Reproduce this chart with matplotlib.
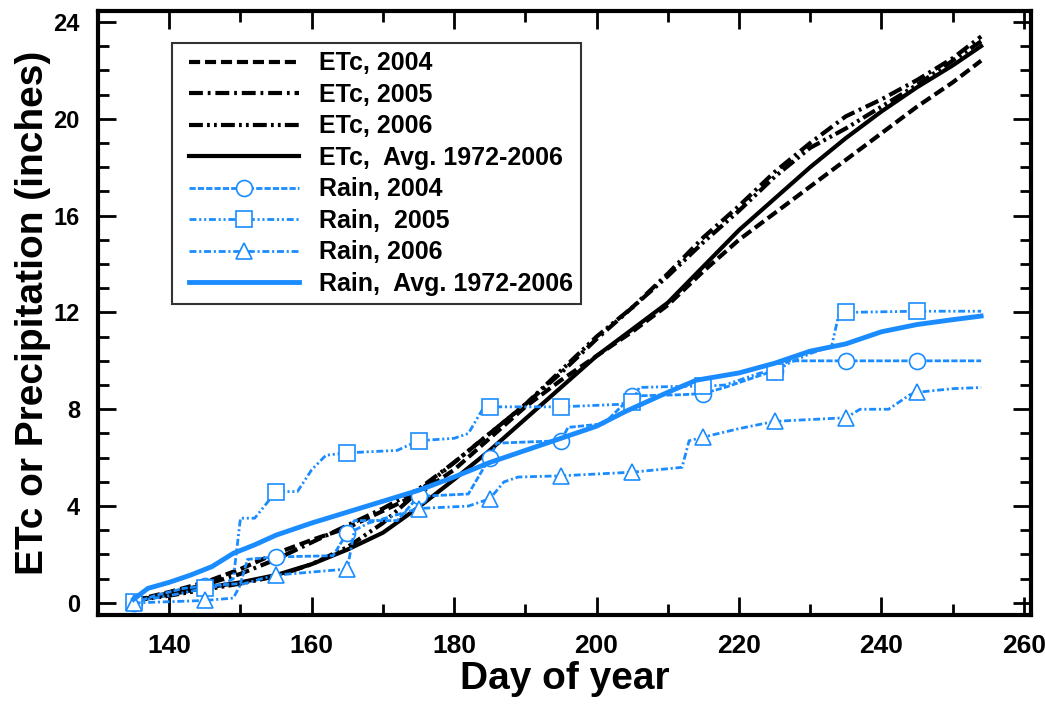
import matplotlib
matplotlib.use('Agg')
import matplotlib.pyplot as plt
from matplotlib.ticker import MultipleLocator
from matplotlib.lines import Line2D
from matplotlib.legend_handler import HandlerLine2D

plt.rcParams['font.family'] = ['Liberation Sans', 'DejaVu Sans']
plt.rcParams['font.weight'] = 'bold'
plt.rcParams['lines.scale_dashes'] = False

# ---- ETc (cumulative, inches)
etc_days = [135, 140, 145, 150, 155, 160, 165, 170, 175, 180, 185, 190, 195,
            200, 205, 210, 215, 220, 225, 230, 235, 240, 245, 250, 254]
etc_2004 = [0.1, 0.45, 0.85, 1.4, 2.05, 2.6, 3.1, 3.8, 4.5, 5.5, 6.8, 8.1, 9.2,
            10.2, 11.2, 12.3, 13.7, 15.0, 16.1, 17.2, 18.3, 19.4, 20.5, 21.5, 22.4]
etc_2005 = [0.1, 0.4, 0.75, 1.2, 1.8, 2.5, 3.2, 3.9, 4.7, 5.8, 7.0, 8.2, 9.5,
            10.9, 12.2, 13.6, 15.1, 16.4, 17.8, 19.0, 20.1, 20.8, 21.6, 22.5, 23.4]
etc_2006 = [0.1, 0.3, 0.55, 0.8, 1.1, 1.6, 2.3, 3.3, 4.6, 5.8, 7.0, 8.2, 9.6,
            11.0, 12.2, 13.5, 14.9, 16.2, 17.6, 18.8, 19.6, 20.5, 21.4, 22.4, 23.2]
etc_avg = [0.1, 0.35, 0.62, 0.85, 1.15, 1.6, 2.2, 2.9, 3.95, 5.1, 6.3, 7.6, 8.9,
           10.2, 11.3, 12.4, 13.9, 15.4, 16.7, 18.0, 19.2, 20.3, 21.3, 22.2, 23.0]

# ---- Rain (cumulative, inches)
mark_days = [135, 145, 155, 165, 175, 185, 195, 205, 215, 225, 235, 245]

r04_days = [135, 138, 142, 145, 150, 151, 155, 163, 165, 166, 172, 175, 182, 185,
            186, 195, 196, 201, 205, 212, 215, 218, 225, 227, 235, 245, 254]
r04_vals = [0.0, 0.3, 0.6, 0.7, 0.8, 1.8, 1.9, 1.95, 2.9, 3.4, 3.4, 4.4, 4.5, 6.0,
            6.6, 6.7, 7.25, 7.4, 8.55, 8.6, 8.65, 8.9, 9.6, 10.0, 10.0, 10.0, 10.0]

r05_days = [135, 140, 145, 147, 149, 150, 152, 155, 158, 160, 162, 165, 172, 175,
            180, 182, 184, 185, 195, 203, 204, 205, 206, 212, 215, 218, 223, 225,
            227, 230, 233, 234, 235, 245, 254]
r05_vals = [0.05, 0.3, 0.6, 0.7, 1.0, 3.5, 3.5, 4.6, 4.6, 5.5, 6.1, 6.2, 6.3, 6.7,
            6.8, 7.0, 8.0, 8.1, 8.1, 8.2, 8.25, 8.3, 8.9, 8.95, 8.95, 9.0, 9.5, 9.55,
            9.9, 10.3, 10.6, 11.9, 12.0, 12.05, 12.05]

r06_days = [135, 145, 149, 150, 153, 155, 165, 166, 168, 175, 182, 185, 187, 189,
            195, 205, 212, 213, 215, 220, 225, 235, 237, 241, 244, 245, 250, 254]
r06_vals = [0.0, 0.1, 0.2, 0.75, 1.0, 1.15, 1.4, 3.0, 3.3, 3.9, 4.0, 4.3, 5.0, 5.2,
            5.25, 5.4, 5.6, 6.7, 6.85, 7.2, 7.5, 7.65, 8.0, 8.0, 8.6, 8.7, 8.85, 8.9]

ravg_days = [135, 137, 140, 143, 146, 149, 152, 155, 160, 165, 170, 175, 180, 185,
             190, 195, 200, 204, 210, 214, 220, 225, 230, 235, 240, 245, 250, 254]
ravg_vals = [0.15, 0.6, 0.85, 1.15, 1.5, 2.05, 2.4, 2.8, 3.3, 3.75, 4.2, 4.65, 5.2,
             5.8, 6.3, 6.8, 7.3, 7.9, 8.7, 9.2, 9.5, 9.9, 10.4, 10.7, 11.2, 11.5,
             11.7, 11.85]

blue = '#1a8cff'

fig = plt.figure(figsize=(10.45, 7.07), dpi=100)
ax = fig.add_axes([0.0938, 0.1301, 0.8928, 0.8543])

ax.plot(etc_days, etc_2004, color='black', lw=3, ls=(0, (8, 3.5)), label='ETc, 2004')
ax.plot(etc_days, etc_2005, color='black', lw=3, ls=(0, (10, 3.5, 2, 3.5)), label='ETc, 2005')
ax.plot(etc_days, etc_2006, color='black', lw=3, ls=(0, (10, 3, 2, 3, 2, 3)), label='ETc, 2006')
ax.plot(etc_days, etc_avg, color='black', lw=3, ls='-', label='ETc,  Avg. 1972-2006')


def marks(days):
    return [days.index(d) for d in mark_days]


mk = dict(markersize=11.5, markerfacecolor='white', markeredgecolor=blue, markeredgewidth=1.2)
ax.plot(r04_days, r04_vals, color=blue, lw=2, ls=(0, (4.5, 1.5)), marker='o',
        markevery=marks(r04_days), label='Rain, 2004', **mk)
ax.plot(r05_days, r05_vals, color=blue, lw=2, ls=(0, (5, 2, 1.5, 2, 1.5, 2)), marker='s',
        markevery=marks(r05_days), label='Rain,  2005', **mk)
ax.plot(r06_days, r06_vals, color=blue, lw=2, ls=(0, (5, 2, 1.5, 2)), marker='^',
        markevery=marks(r06_days), label='Rain, 2006', **mk)
ax.plot(ravg_days, ravg_vals, color=blue, lw=3.5, ls='-', label='Rain,  Avg. 1972-2006')

ax.set_xlim(130, 261)
ax.set_ylim(-0.5, 24.45)
ax.set_xticks(range(140, 261, 20))
ax.set_yticks(range(0, 25, 4))
ax.xaxis.set_minor_locator(MultipleLocator(10))
ax.yaxis.set_minor_locator(MultipleLocator(1))
ax.tick_params(which='both', direction='in', top=True, right=True, width=2)
ax.tick_params(which='major', length=13)
ax.tick_params(which='minor', length=8)
ax.tick_params(axis='x', which='major', labelsize=19, pad=14)
ax.tick_params(axis='y', which='major', labelsize=17, pad=13)
for lab in ax.get_xticklabels() + ax.get_yticklabels():
    lab.set_fontweight('bold')
for sp in ax.spines.values():
    sp.set_linewidth(3)

ax.set_xlabel('Day of year', fontsize=28, fontweight='bold', labelpad=2)
ax.set_ylabel('ETc or Precipitation (inches)', fontsize=28, fontweight='bold', labelpad=2)

leg = ax.legend(loc='upper left', bbox_to_anchor=(0.0793, 0.947), borderaxespad=0,
                handlelength=4.75, handletextpad=0.8, labelspacing=0.3,
                borderpad=0.33, fancybox=False, edgecolor='#333333', framealpha=1,
                numpoints=1, prop={'weight': 'bold', 'size': 18},
                handler_map={Line2D: HandlerLine2D(xpad=0.33)})
leg.get_frame().set_linewidth(1.5)

fig.savefig('out.png', dpi=100)
